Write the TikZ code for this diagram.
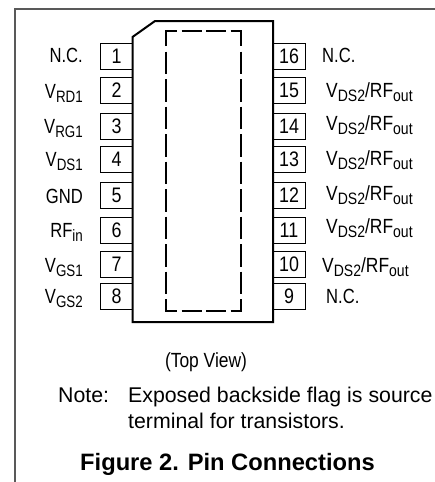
\documentclass[tikz,border=0pt]{standalone}
\usepackage{fontspec}
\setmainfont{Liberation Sans}
\newfontfamily\narrowfont[FakeStretch=0.81]{Liberation Sans}
\newfontfamily\widerfont[FakeStretch=0.85]{Liberation Sans}
\usepackage{tikz}

\newcommand{\lowtxt}[1]{\raisebox{-4pt}{\fontsize{16.5}{17}\selectfont #1}}
\newcommand{\vds}{{\widerfont V\lowtxt{DS2}/RF\lowtxt{out}}}

\tikzset{
    pinbox/.style={draw, line width=0.8pt, minimum width=32pt, minimum height=26pt, inner sep=0pt, font=\widerfont\fontsize{21}{22}\selectfont},
    pintext/.style={inner sep=0pt, font=\narrowfont\fontsize{20.5}{22}\selectfont},
    notetext/.style={inner sep=0pt, anchor=base west, font=\fontsize{21.3}{24}\selectfont},
    flagline/.style={line width=1.8pt}
}

\begin{document}
\begin{tikzpicture}[x=1pt,y=-1pt]
    \useasboundingbox (0,0) rectangle (435,482);

    % frame
    \draw[line width=1.6pt, black!65] (15,482) -- (15,9) -- (435,9);

    % package
    \draw[line width=2pt] (132.5,37) -- (155,21) -- (273,21) -- (273,322) -- (132.5,322) -- cycle;

    % backside flag
    \draw[flagline] (166.3,46) -- (166.3,31) -- (176.5,31);
    \draw[flagline] (230.5,31) -- (241.3,31) -- (241.3,46);
    \draw[flagline] (166.3,299.3) -- (166.3,310.7) -- (176.5,310.7);
    \draw[flagline] (230.5,310.7) -- (241.3,310.7) -- (241.3,299.3);
    \draw[flagline, dash pattern=on 20pt off 4.3pt] (181.7,31) -- (226,31);
    \draw[flagline, dash pattern=on 20pt off 4.3pt] (181.7,310.7) -- (226,310.7);
    \draw[flagline, dash pattern=on 22.3pt off 5.2pt] (166.3,51.7) -- (166.3,294);
    \draw[flagline, dash pattern=on 22.3pt off 5.2pt] (241.3,51.7) -- (241.3,294);

    % pins
    \foreach \n/\y in {1/56,2/90,3/126,4/159,5/195,6/230,7/264,8/296}
        \node[pinbox] (pin\n) at (116.5,\y) {\n};
    \foreach \n/\y in {16/56,15/90,14/126,13/159,12/195,11/230,10/264,9/296}
        \node[pinbox] (pin\n) at (289,\y) {\n};

    % left names
    \foreach \n/\y/\t in {1/62.5/{N.C.},2/98/{V\lowtxt{RD1}},3/133/{V\lowtxt{RG1}},4/166/{V\lowtxt{DS1}},
                          5/203/{GND},6/237/{RF\lowtxt{in}},7/272/{V\lowtxt{GS1}},8/303/{V\lowtxt{GS2}}}
        \node[pintext, anchor=base east] (name\n) at (83,\y) {\t};

    % right names
    \foreach \n/\x/\y/\t in {16/322/62/{N.C.},15/326/97/{\vds},14/326/130/{\vds},13/326/165/{\vds},
                             12/326/200/{\vds},11/326/233/{\vds},10/322/272/{\vds},9/326/303/{N.C.}}
        \node[pintext, anchor=base west] (name\n) at (\x,\y) {\t};

    % text below
    \node[pintext, anchor=base, font=\widerfont\fontsize{20.5}{22}\selectfont] (topview) at (206,367) {(Top View)};
    \node[notetext] (note) at (58,402) {Note:};
    \node[notetext] (noteone) at (128,402) {Exposed backside flag is source};
    \node[notetext] (notetwo) at (128,428) {terminal for transistors.};
    \node[notetext, font=\bfseries\fontsize{23.7}{26}\selectfont] (caption) at (80,470.5) {Figure 2. Pin Connections};
\end{tikzpicture}
\end{document}
